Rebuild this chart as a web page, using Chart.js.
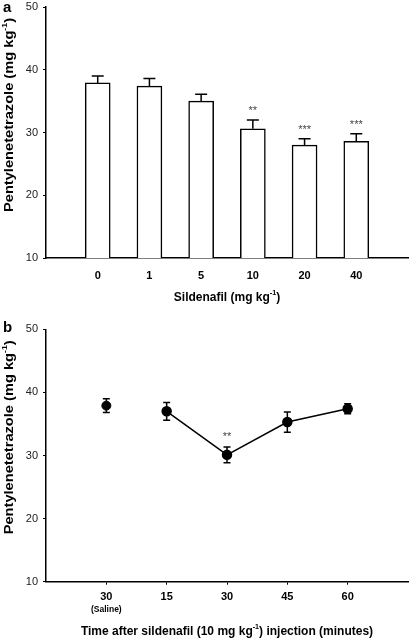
<!DOCTYPE html>
<html lang="en">
<head>
  <meta charset="UTF-8">
  <title>Sildenafil and pentylenetetrazole threshold</title>
  <script src="https://cdn.jsdelivr.net/npm/chart.js"></script>
  <style>
    * { margin: 0; padding: 0; box-sizing: border-box; }
    body { background: #fff; width: 410px; height: 640px; overflow: hidden; }
    canvas { display: block; }
  </style>
</head>
<body>
  <canvas id="doseChart" width="410" height="320"></canvas>
  <canvas id="timeChart" width="410" height="320"></canvas>

  <script>
    // panel a - dose response
    const doseLabels = ['0', '1', '5', '10', '20', '40'];
    const doseMeans = [37.9, 37.4, 35.0, 30.6, 28.0, 28.6];
    const doseSem = [1.1, 1.2, 1.1, 1.4, 1.0, 1.2];
    const doseStars = ['', '', '', '**', '***', '***'];

    // panel b - time course after 10 mg/kg
    const timeLabels = ['30', '15', '30', '45', '60'];
    const timeNotes = ['(Saline)', '', '', '', ''];
    const salineMeans = [37.9, null, null, null, null];
    const sildenafilMeans = [null, 37.0, 30.1, 35.3, 37.4];
    const timeSem = [1.1, 1.4, 1.25, 1.6, 0.8];
    const timeStars = ['', '', '**', '', ''];

    const yTicks = [10, 20, 30, 40, 50];

    // axis titles, the '-1' bits are superscripts
    const yTitle = [['Pentylenetetrazole (mg kg'], ['-1', true], [')']];
    const doseTitle = [['Sildenafil (mg kg'], ['-1', true], [')']];
    const timeTitle = [['Time after sildenafil (10 mg kg'], ['-1', true], [') injection (minutes)']];

    const FONT = "'Liberation Sans', Arial, sans-serif";

    // empty slot on each side so the categories sit away from the axes
    const pad = (arr, fill) => [fill, ...arr, fill];

    function richWidth(ctx, parts, size) {
      let w = 0;
      parts.forEach(([t, sup]) => {
        ctx.font = 'bold ' + (sup ? size * 0.6 : size) + 'px ' + FONT;
        w += ctx.measureText(t).width;
      });
      return w;
    }

    function drawRich(ctx, parts, x, y, size) {
      ctx.textAlign = 'left';
      ctx.textBaseline = 'middle';
      parts.forEach(([t, sup]) => {
        ctx.font = 'bold ' + (sup ? size * 0.6 : size) + 'px ' + FONT;
        ctx.fillText(t, x, sup ? y - size * 0.42 : y);
        x += ctx.measureText(t).width;
      });
    }

    const extras = {
      id: 'extras',
      afterDatasetsDraw(chart) {
        const o = chart.options.plugins.extras;
        const { ctx, chartArea } = chart;
        const x = chart.scales.x, y = chart.scales.y;
        ctx.save();
        ctx.strokeStyle = '#000';
        ctx.lineWidth = 1.5;
        o.means.forEach((m, i) => {
          if (m == null) return;
          const px = x.getPixelForValue(i + 1);
          const top = y.getPixelForValue(m + o.sem[i]);
          const bot = o.both ? y.getPixelForValue(m - o.sem[i]) : y.getPixelForValue(m);
          ctx.beginPath();
          ctx.moveTo(px, bot); ctx.lineTo(px, top);
          ctx.moveTo(px - o.cap, top); ctx.lineTo(px + o.cap, top);
          if (o.both) { ctx.moveTo(px - o.cap, bot); ctx.lineTo(px + o.cap, bot); }
          ctx.stroke();
          if (o.stars[i]) {
            ctx.fillStyle = '#444';
            ctx.font = '11px ' + FONT;
            ctx.textAlign = 'center';
            ctx.textBaseline = 'middle';
            ctx.fillText(o.stars[i], px, top - o.starGap);
          }
        });
        ctx.fillStyle = '#000';
        if (o.notes) {
          ctx.font = 'bold 8.5px ' + FONT;
          ctx.textAlign = 'center';
          ctx.textBaseline = 'middle';
          o.notes.forEach((n, i) => {
            if (n) ctx.fillText(n, x.getPixelForValue(i + 1), x.top + 28);
          });
        }

        // x title, centred under the plot
        const xw = richWidth(ctx, o.xTitle, 12);
        drawRich(ctx, o.xTitle, (chartArea.left + chartArea.right) / 2 - xw / 2, o.xTitleY, 12);

        // y title, stretched along its length like the original figure
        const yw = richWidth(ctx, yTitle, 12);
        ctx.save();
        ctx.translate(10, chartArea.top + 205);
        ctx.rotate(-Math.PI / 2);
        ctx.scale(194 / yw, 1);
        drawRich(ctx, yTitle, 0, 0, 12);
        ctx.restore();

        ctx.font = 'bold 15px ' + FONT;
        ctx.textAlign = 'left';
        ctx.textBaseline = 'middle';
        ctx.fillText(o.panel, 3, 8);
        ctx.restore();
      }
    };

    function yAxis() {
      return {
        min: 10, max: 50,
        afterBuildTicks: s => { s.ticks = yTicks.map(v => ({ value: v })); },
        afterFit: s => { s.width = 46; s.paddingTop = 0; s.paddingBottom = 0; },
        border: { color: '#000', width: 1.5 },
        grid: { drawOnChartArea: false, drawTicks: true, tickLength: 3, color: '#000' },
        ticks: { color: '#222', font: { family: FONT, size: 11 }, padding: 5 }
      };
    }

    function xAxis(height, tickPad, showTicks) {
      return {
        offset: false,
        afterFit: s => { s.height = height; s.paddingLeft = 0; s.paddingRight = 0; },
        border: { color: '#000', width: 1.5 },
        grid: {
          drawOnChartArea: false, drawTicks: true, tickLength: 3,
          color: c => (showTicks && c.tick && c.tick.label) ? '#000' : 'rgba(0,0,0,0)'
        },
        ticks: { color: '#000', autoSkip: false, maxRotation: 0, font: { family: FONT, size: 11, weight: 'bold' }, padding: tickPad }
      };
    }

    new Chart(document.getElementById('doseChart'), {
      type: 'bar',
      data: {
        labels: pad(doseLabels, ''),
        datasets: [{
          data: pad(doseMeans, null),
          backgroundColor: '#fff',
          borderColor: '#000',
          borderWidth: 1.5,
          barThickness: 25
        }]
      },
      options: {
        responsive: false,
        animation: false,
        layout: { autoPadding: false, padding: { top: 7, right: 2, left: 0, bottom: 0 } },
        plugins: {
          legend: { display: false },
          tooltip: { enabled: false },
          extras: {
            means: doseMeans, sem: doseSem, stars: doseStars, both: false, cap: 6, starGap: 9,
            panel: 'a', xTitle: doseTitle, xTitleY: 298
          }
        },
        scales: {
          x: xAxis(62, 8, false),
          y: yAxis()
        }
      },
      plugins: [extras]
    });

    new Chart(document.getElementById('timeChart'), {
      type: 'line',
      data: {
        labels: pad(timeLabels, ''),
        datasets: [{
          data: pad(salineMeans, null),
          showLine: false,
          pointRadius: 4.5,
          pointBackgroundColor: '#000',
          pointBorderColor: '#000'
        }, {
          data: pad(sildenafilMeans, null),
          borderColor: '#000',
          borderWidth: 1.5,
          pointRadius: 4.5,
          pointBackgroundColor: '#000',
          pointBorderColor: '#000'
        }]
      },
      options: {
        responsive: false,
        animation: false,
        layout: { autoPadding: false, padding: { top: 9.3, right: 2, left: 0, bottom: 0 } },
        plugins: {
          legend: { display: false },
          tooltip: { enabled: false },
          extras: {
            means: timeLabels.map((_, i) => salineMeans[i] ?? sildenafilMeans[i]),
            sem: timeSem, stars: timeStars, notes: timeNotes,
            both: true, cap: 3.5, starGap: 10,
            panel: 'b', xTitle: timeTitle, xTitleY: 311.7
          }
        },
        scales: {
          x: xAxis(58.3, 6, true),
          y: yAxis()
        }
      },
      plugins: [extras]
    });
  </script>
</body>
</html>
